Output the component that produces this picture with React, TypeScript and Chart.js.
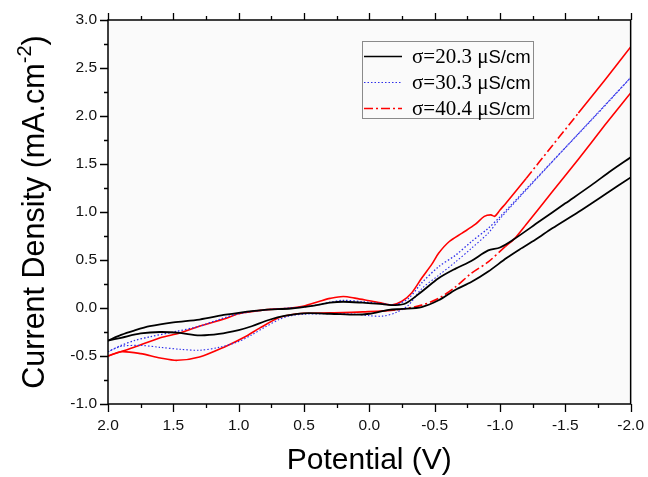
import React, { useEffect, useRef } from "react";
import { Chart, registerables } from "chart.js";

Chart.register(...registerables);

// ---------- data ----------
const xTickValues = [2.0, 1.5, 1.0, 0.5, 0.0, -0.5, -1.0, -1.5, -2.0];
const xMinorValues = [1.75, 1.25, 0.75, 0.25, -0.25, -0.75, -1.25, -1.75];
const yTickValues = [-1.0, -0.5, 0.0, 0.5, 1.0, 1.5, 2.0, 2.5, 3.0];
const yMinorValues = [-0.75, -0.25, 0.25, 0.75, 1.25, 1.75, 2.25, 2.75];

const seriesLabels = ["σ=20.3 μS/cm", "σ=30.3 μS/cm", "σ=40.4 μS/cm"];

// σ = 20.3 µS/cm (black)
const blackFwdV = [2.0, 1.9, 1.8, 1.68, 1.5, 1.3, 1.1, 1.0, 0.8, 0.6, 0.45, 0.3, 0.2, 0.05, -0.1, -0.2, -0.28, -0.4, -0.53, -0.66, -0.78, -0.91, -1.0, -1.1, -1.3, -1.5, -1.7, -1.85, -2.0];
const blackFwdI = [-0.34, -0.28, -0.235, -0.19, -0.15, -0.12, -0.07, -0.05, -0.02, -0.005, 0.02, 0.055, 0.065, 0.055, 0.04, 0.03, 0.05, 0.17, 0.31, 0.41, 0.49, 0.6, 0.63, 0.71, 0.9, 1.09, 1.28, 1.43, 1.57];
const blackRevV = [-2.0, -1.8, -1.6, -1.4, -1.27, -1.15, -1.05, -0.91, -0.78, -0.66, -0.53, -0.4, -0.25, -0.15, 0.0, 0.1, 0.3, 0.5, 0.64, 0.77, 0.9, 1.0, 1.15, 1.3, 1.45, 1.6, 1.75, 1.9, 2.0];
const blackRevI = [1.36, 1.18, 1.0, 0.83, 0.71, 0.61, 0.52, 0.38, 0.27, 0.19, 0.08, 0.01, -0.01, -0.02, -0.06, -0.07, -0.06, -0.055, -0.08, -0.125, -0.19, -0.23, -0.27, -0.285, -0.26, -0.25, -0.265, -0.31, -0.34];

// σ = 30.3 µS/cm (blue)
const blueFwdV = [2.0, 1.9, 1.8, 1.68, 1.5, 1.3, 1.15, 1.0, 0.8, 0.6, 0.45, 0.3, 0.2, 0.05, -0.1, -0.2, -0.3, -0.4, -0.53, -0.66, -0.78, -0.91, -1.0, -1.25, -1.5, -1.75, -2.0];
const blueFwdI = [-0.455, -0.39, -0.34, -0.3, -0.25, -0.19, -0.12, -0.06, -0.02, 0.0, 0.02, 0.06, 0.08, 0.065, 0.045, 0.035, 0.1, 0.26, 0.43, 0.55, 0.69, 0.83, 0.95, 1.31, 1.67, 2.03, 2.4];
const blueRevV = [-2.0, -1.5, -1.0, -0.91, -0.78, -0.66, -0.53, -0.4, -0.3, -0.2, -0.1, 0.0, 0.1, 0.3, 0.5, 0.6, 0.69, 0.8, 0.9, 1.0, 1.15, 1.3, 1.45, 1.6, 1.75, 1.9, 2.0];
const blueRevI = [2.4, 1.67, 0.93, 0.78, 0.62, 0.48, 0.34, 0.2, 0.03, -0.05, -0.085, -0.08, -0.065, -0.06, -0.065, -0.08, -0.12, -0.2, -0.28, -0.35, -0.41, -0.44, -0.43, -0.41, -0.39, -0.4, -0.455];

// σ = 40.4 µS/cm (red)
const redFwdV = [2.0, 1.8, 1.6, 1.45, 1.3, 1.1, 1.0, 0.8, 0.6, 0.5, 0.38, 0.3, 0.2, 0.1, 0.0, -0.1, -0.17, -0.25, -0.32, -0.4, -0.48, -0.53, -0.61, -0.71, -0.81, -0.88, -0.93, -0.96, -1.0, -1.05, -1.2, -1.4, -1.6, -1.8, -2.0];
const redFwdI = [-0.5, -0.41, -0.31, -0.26, -0.19, -0.11, -0.06, -0.02, 0.0, 0.02, 0.07, 0.1, 0.12, 0.1, 0.075, 0.05, 0.03, 0.07, 0.15, 0.31, 0.46, 0.57, 0.69, 0.78, 0.87, 0.955, 0.97, 0.955, 1.02, 1.1, 1.35, 1.69, 2.03, 2.37, 2.72];
const redRevV = [-2.0, -1.8, -1.6, -1.4, -1.2, -1.11, -1.04, -0.91, -0.78, -0.66, -0.53, -0.4, -0.2, 0.05, 0.3, 0.5, 0.6, 0.69, 0.84, 0.95, 1.1, 1.3, 1.47, 1.6, 1.75, 1.9, 2.0];
const redRevI = [2.24, 1.9, 1.55, 1.21, 0.87, 0.72, 0.64, 0.48, 0.36, 0.22, 0.1, 0.03, -0.02, -0.04, -0.05, -0.055, -0.07, -0.1, -0.21, -0.3, -0.4, -0.51, -0.545, -0.52, -0.475, -0.455, -0.5];

// ---------- styles ----------
const BLACK = "#000000";
const BLUE = "rgb(45,45,235)";
const RED = "rgb(255,0,0)";
const DASH_DOT = [9, 3, 2, 3];
const DOT = [1.5, 2];
const PLOT_BG = "#fafafa";
const SANS = "'Liberation Sans', Arial, sans-serif";
const SERIF = "'Liberation Serif', 'Times New Roman', serif";

const toPts = (xs: number[], ys: number[]) => xs.map((x, i) => ({ x, y: ys[i] }));

const fmt = (v: number) => (Math.abs(v) < 1e-9 ? "0.0" : v.toFixed(1));

const decorPlugin = {
  id: "decor",
  beforeDraw(chart: any) {
    const { ctx, chartArea: a } = chart;
    ctx.save();
    ctx.fillStyle = PLOT_BG;
    ctx.fillRect(a.left, a.top, a.right - a.left, a.bottom - a.top);
    ctx.restore();
  },
  afterDraw(chart: any) {
    const { ctx, chartArea: a, scales } = chart;
    const sx = scales.x;
    const sy = scales.y;
    ctx.save();
    // frame
    ctx.strokeStyle = "#000";
    ctx.lineWidth = 1.5;
    ctx.strokeRect(a.left, a.top, a.right - a.left, a.bottom - a.top);
    // ticks
    ctx.lineWidth = 1.3;
    ctx.beginPath();
    xTickValues.forEach((v) => {
      const p = Math.round(sx.getPixelForValue(v)) + 0.5;
      ctx.moveTo(p, a.bottom);
      ctx.lineTo(p, a.bottom + 8);
      ctx.moveTo(p, a.top);
      ctx.lineTo(p, a.top - 7);
    });
    xMinorValues.forEach((v) => {
      const p = Math.round(sx.getPixelForValue(v)) + 0.5;
      ctx.moveTo(p, a.bottom);
      ctx.lineTo(p, a.bottom + 4);
      ctx.moveTo(p, a.top);
      ctx.lineTo(p, a.top - 4);
    });
    yTickValues.forEach((v) => {
      const p = Math.round(sy.getPixelForValue(v)) + 0.5;
      ctx.moveTo(a.left, p);
      ctx.lineTo(a.left - 8, p);
    });
    yMinorValues.forEach((v) => {
      const p = Math.round(sy.getPixelForValue(v)) + 0.5;
      ctx.moveTo(a.left, p);
      ctx.lineTo(a.left - 4, p);
    });
    ctx.stroke();

    // x title
    ctx.fillStyle = "#000";
    ctx.font = "30px " + SANS;
    ctx.textAlign = "center";
    ctx.textBaseline = "alphabetic";
    ctx.fillText("Potential (V)", (a.left + a.right) / 2, 469);

    // y title with superscript
    ctx.save();
    ctx.translate(44, (a.top + a.bottom) / 2);
    ctx.rotate(-Math.PI / 2);
    ctx.textAlign = "left";
    const main = "Current Density (mA.cm";
    const sup = "-2";
    const close = ")";
    ctx.font = "30.5px " + SANS;
    const w1 = ctx.measureText(main).width;
    const w3 = ctx.measureText(close).width;
    ctx.font = "20px " + SANS;
    const w2 = ctx.measureText(sup).width;
    let x0 = -(w1 + w2 + w3) / 2;
    ctx.font = "30.5px " + SANS;
    ctx.fillText(main, x0, 0);
    x0 += w1;
    ctx.font = "20px " + SANS;
    ctx.fillText(sup, x0, -13);
    x0 += w2;
    ctx.font = "30.5px " + SANS;
    ctx.fillText(close, x0, 0);
    ctx.restore();

    // legend
    const lx = 362, ly = 41, lw = 171, lh = 77;
    ctx.fillStyle = PLOT_BG;
    ctx.fillRect(lx, ly, lw, lh);
    ctx.strokeStyle = "#8a8a8a";
    ctx.lineWidth = 1;
    ctx.strokeRect(lx + 0.5, ly + 0.5, lw, lh);
    const rows = [
      { color: BLACK, dash: [] as number[], width: 1.6 },
      { color: BLUE, dash: DOT, width: 1.2 },
      { color: RED, dash: DASH_DOT, width: 1.4 },
    ];
    rows.forEach((r, i) => {
      const base = 63 + i * 26;
      const ym = base - 6.5;
      ctx.strokeStyle = r.color;
      ctx.lineWidth = r.width;
      ctx.setLineDash(r.dash);
      ctx.beginPath();
      ctx.moveTo(364, ym);
      ctx.lineTo(402, ym);
      ctx.stroke();
      ctx.setLineDash([]);
      const label = seriesLabels[i];
      const cut = label.indexOf("S/cm");
      const serifPart = label.slice(0, cut);
      const sansPart = label.slice(cut);
      ctx.fillStyle = "#000";
      ctx.textAlign = "left";
      ctx.font = "21px " + SERIF;
      ctx.fillText(serifPart, 412, base);
      const ws = ctx.measureText(serifPart).width;
      ctx.font = "18.5px " + SANS;
      ctx.fillText(sansPart, 412 + ws, base);
    });
    ctx.restore();
  },
};

const inRange = (v: number, lo: number, hi: number) => v >= lo && v <= hi;

export default function App() {
  const ref = useRef<HTMLCanvasElement | null>(null);

  useEffect(() => {
    if (!ref.current) return;
    const common = {
      showLine: true,
      pointRadius: 0,
      pointHoverRadius: 0,
      tension: 0.3,
      fill: false,
    };
    const chart = new Chart(ref.current, {
      type: "scatter",
      data: {
        datasets: [
          { ...common, label: seriesLabels[0], data: toPts(blackFwdV, blackFwdI), borderColor: BLACK, borderWidth: 1.8 },
          { ...common, label: seriesLabels[0] + " r", data: toPts(blackRevV, blackRevI), borderColor: BLACK, borderWidth: 1.8 },
          { ...common, label: seriesLabels[1], data: toPts(blueFwdV, blueFwdI), borderColor: BLUE, borderWidth: 1.3, borderDash: DOT },
          { ...common, label: seriesLabels[1] + " r", data: toPts(blueRevV, blueRevI), borderColor: BLUE, borderWidth: 1.1, borderDash: DOT },
          {
            ...common,
            label: seriesLabels[2],
            data: toPts(redFwdV, redFwdI),
            borderColor: RED,
            borderWidth: 1.6,
            segment: {
              borderDash: (c: any) => (inRange(c.p0.parsed.x, -1.55, -1.1) ? DASH_DOT : []),
            },
          },
          {
            ...common,
            label: seriesLabels[2] + " r",
            data: toPts(redRevV, redRevI),
            borderColor: RED,
            borderWidth: 1.6,
            segment: {
              borderDash: (c: any) => (inRange(c.p0.parsed.x, -1.1, -0.4) ? DASH_DOT : []),
            },
          },
        ],
      },
      options: {
        responsive: false,
        animation: false,
        devicePixelRatio: 1,
        layout: { padding: { left: 0, top: 20, right: 15, bottom: 0 } },
        plugins: { legend: { display: false }, tooltip: { enabled: false }, title: { display: false } },
        scales: {
          x: {
            type: "linear",
            reverse: true,
            min: -2,
            max: 2,
            grid: { display: false, drawTicks: true, tickLength: 8 },
            border: { display: false },
            afterBuildTicks: (s: any) => {
              s.ticks = xTickValues.map((v) => ({ value: v }));
            },
            afterFit: (s: any) => {
              s.height = 73;
            },
            ticks: {
              autoSkip: false,
              maxRotation: 0,
              padding: 4,
              color: "#111",
              font: { family: SANS, size: 15.5 },
              callback: (v: any) => fmt(Number(v)),
            },
          },
          y: {
            type: "linear",
            min: -1,
            max: 3,
            grid: { display: false, drawTicks: true, tickLength: 8 },
            border: { display: false },
            afterBuildTicks: (s: any) => {
              s.ticks = yTickValues.map((v) => ({ value: v }));
            },
            afterFit: (s: any) => {
              s.width = 108;
            },
            ticks: {
              autoSkip: false,
              padding: 3,
              color: "#111",
              font: { family: SANS, size: 15.5 },
              callback: (v: any) => fmt(Number(v)),
            },
          },
        },
      },
      plugins: [decorPlugin],
    } as any);
    return () => chart.destroy();
  }, []);

  return (
    <div style={{ position: "absolute", left: 0, top: 0, width: 648, height: 477, background: "#fff" }}>
      <canvas ref={ref} width={648} height={477} style={{ width: 648, height: 477, display: "block" }} />
    </div>
  );
}
